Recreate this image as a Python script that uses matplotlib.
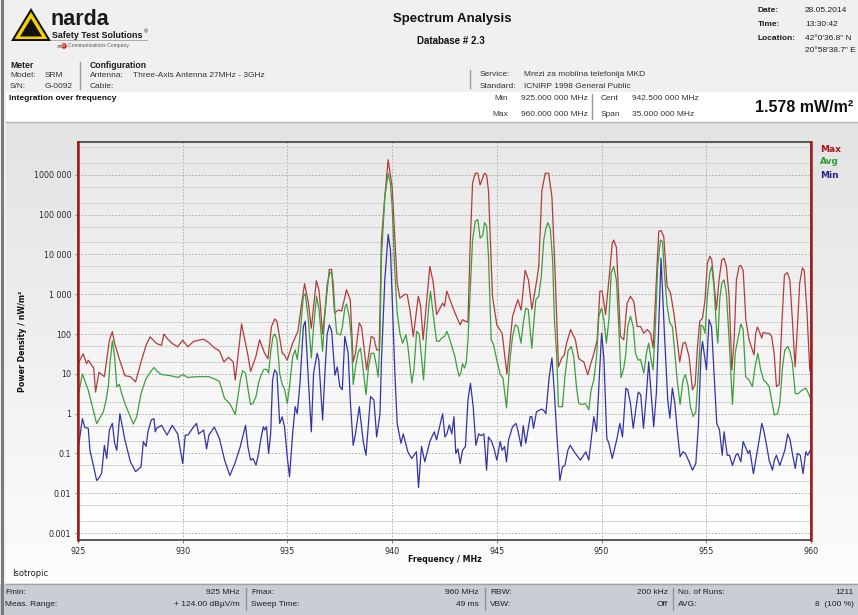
import numpy as np
import matplotlib.pyplot as plt
from matplotlib.colors import to_rgb
from matplotlib.patches import Polygon, Rectangle, Circle
from matplotlib.ticker import FixedLocator, LogLocator, NullFormatter

# values (MHz, nW/m²)
max_freq = [925.00, 925.25, 925.41, 925.49, 925.75, 925.84, 926.00, 926.26, 926.50, 926.64,
            926.75, 926.97, 927.24, 927.50, 927.75, 928.01, 928.25, 928.44, 928.75, 928.99,
            929.10, 929.25, 929.50, 929.76, 930.00, 930.25, 930.51, 930.76, 931.00, 931.25,
            931.51, 931.75, 931.97, 932.18, 932.41, 932.51, 932.81, 933.00, 933.11, 933.24,
            933.50, 933.67, 933.91, 934.07, 934.24, 934.40, 934.50, 934.75, 934.86, 934.99,
            935.25, 935.50, 935.66, 935.82, 936.00, 936.14, 936.25, 936.38, 936.51, 936.68,
            937.00, 937.11, 937.25, 937.43, 937.59, 937.82, 938.00, 938.14, 938.25, 938.43,
            938.54, 938.78, 939.00, 939.13, 939.26, 939.38, 939.49, 939.65, 939.81, 940.00,
            940.13, 940.24, 940.37, 940.61, 940.72, 940.85, 941.01, 941.25, 941.36, 941.48,
            941.80, 941.96, 942.12, 942.25, 942.41, 942.50, 942.61, 942.76, 943.00, 943.25,
            943.36, 943.50, 943.62, 943.73, 943.84, 943.97, 944.09, 944.20, 944.41, 944.51,
            944.60, 944.79, 945.00, 945.25, 945.48, 945.75, 946.00, 946.16, 946.35, 946.51,
            946.67, 946.91, 947.00, 947.15, 947.31, 947.47, 947.63, 947.78, 947.94, 948.10,
            948.22, 948.33, 948.52, 948.75, 948.91, 949.15, 949.34, 949.47, 949.63, 949.79,
            949.92, 950.03, 950.19, 950.35, 950.51, 950.58, 950.71, 950.90, 951.06, 951.22,
            951.38, 951.54, 951.70, 951.86, 952.02, 952.18, 952.34, 952.46, 952.57, 952.73,
            952.84, 952.97, 953.13, 953.29, 953.45, 953.61, 953.73, 953.89, 954.00, 954.18,
            954.34, 954.47, 954.58, 954.69, 954.82, 954.94, 955.05, 955.17, 955.26, 955.37,
            955.48, 955.61, 955.74, 955.85, 955.96, 956.09, 956.22, 956.33, 956.44, 956.57,
            956.65, 956.76, 956.89, 957.04, 957.17, 957.28, 957.36, 957.44, 957.55, 957.65,
            957.71, 957.84, 958.00, 958.12, 958.24, 958.35, 958.48, 958.60, 958.73, 958.87,
            958.99, 959.11, 959.24, 959.35, 959.46, 959.59, 959.68, 959.81, 959.94, 960.00]
max_vals = [18, 32, 18, 22, 14, 3.5, 11, 8.5, 70, 115,
            58, 24, 9, 8.5, 6.3, 20, 52, 85, 58, 52,
            100, 78, 58, 48, 70, 48, 65, 70, 74, 61,
            45, 38, 20, 26, 20, 7, 180, 59, 30, 11.5,
            28, 72, 33, 24, 155, 240, 210, 33, 30, 22,
            59, 117, 500, 1860, 600, 140, 500, 2200, 1250, 100,
            4200, 4200, 340, 400, 380, 1300, 730, 20, 33, 190,
            150, 12.6, 87, 80, 40, 40, 23000, 280000, 2400000, 500000,
            23000, 1900, 800, 1000, 980, 400, 87, 890, 500, 72,
            5000, 2000, 310, 410, 600, 500, 1200, 730, 340, 170,
            230, 210, 200, 20000, 620000, 1100000, 1100000, 560000, 1100000, 1000000,
            400000, 900, 170, 105, 10, 280, 730, 400, 4000, 2300,
            420, 2300, 5000, 400000, 1100000, 1100000, 280000, 3500, 15, 25,
            30, 59, 130, 72, 24, 20, 9.6, 17, 32, 72,
            1200, 1200, 310, 2300, 19000, 23000, 15000, 87, 72, 600,
            890, 650, 155, 155, 105, 130, 105, 45, 700, 38000,
            40000, 28000, 1580, 1100, 340, 72, 20, 59, 62, 27,
            4, 5.4, 49, 210, 250, 730, 6000, 9000, 7400, 1900,
            410, 2300, 7400, 8000, 5000, 890, 12.6, 72, 2300, 5100,
            5300, 4000, 230, 72, 45, 30, 105, 150, 110, 79,
            110, 105, 105, 87, 33, 4.8, 5.4, 150, 3000, 3500,
            2300, 230, 15, 150, 1900, 4600, 3900, 340, 12.6, 10]

avg_freq = [925.00, 925.21, 925.49, 925.75, 925.89, 926.05, 926.21, 926.34, 926.45, 926.53,
            926.64, 926.75, 926.85, 926.97, 927.08, 927.24, 927.50, 927.64, 927.80, 928.01,
            928.25, 928.50, 928.63, 928.75, 928.99, 929.25, 929.50, 929.76, 930.00, 930.25,
            930.51, 930.76, 931.00, 931.25, 931.51, 931.75, 932.00, 932.25, 932.51, 932.75,
            932.86, 933.00, 933.15, 933.24, 933.35, 933.50, 933.62, 933.75, 933.88, 934.00,
            934.10, 934.20, 934.31, 934.40, 934.50, 934.63, 934.75, 934.86, 934.99, 935.10,
            935.25, 935.37, 935.47, 935.58, 935.76, 935.85, 936.00, 936.14, 936.25, 936.39,
            936.51, 936.68, 936.79, 936.90, 937.03, 937.11, 937.19, 937.27, 937.35, 937.54,
            937.63, 937.74, 937.82, 937.95, 938.06, 938.14, 938.25, 938.38, 938.49, 938.62,
            938.75, 938.87, 939.00, 939.13, 939.26, 939.33, 939.42, 939.49, 939.65, 939.81,
            939.92, 940.00, 940.13, 940.24, 940.37, 940.50, 940.66, 940.75, 940.94, 941.04,
            941.17, 941.29, 941.40, 941.50, 941.64, 941.75, 941.83, 941.99, 942.12, 942.25,
            942.37, 942.50, 942.61, 942.76, 942.85, 943.00, 943.09, 943.20, 943.28, 943.36,
            943.46, 943.54, 943.62, 943.73, 943.84, 943.97, 944.09, 944.20, 944.32, 944.41,
            944.51, 944.60, 944.73, 944.84, 945.00, 945.16, 945.29, 945.46, 945.56, 945.64,
            945.75, 945.88, 946.00, 946.15, 946.26, 946.38, 946.50, 946.59, 946.67, 946.75,
            946.86, 947.00, 947.12, 947.24, 947.34, 947.43, 947.55, 947.66, 947.75, 947.86,
            947.94, 948.13, 948.25, 948.40, 948.55, 948.67, 948.80, 948.91, 949.07, 949.23,
            949.39, 949.50, 949.63, 949.76, 949.87, 950.00, 950.11, 950.23, 950.35, 950.46,
            950.58, 950.71, 950.82, 950.93, 951.06, 951.16, 951.25, 951.38, 951.51, 951.62,
            951.75, 951.86, 952.02, 952.14, 952.25, 952.37, 952.46, 952.57, 952.68, 952.81,
            952.91, 953.00, 953.13, 953.26, 953.38, 953.50, 953.61, 953.75, 953.89, 954.00,
            954.13, 954.24, 954.37, 954.50, 954.62, 954.75, 954.85, 954.94, 955.05, 955.17,
            955.26, 955.37, 955.48, 955.55, 955.64, 955.74, 955.85, 955.96, 956.09, 956.25,
            956.38, 956.50, 956.65, 956.76, 956.88, 957.04, 957.20, 957.33, 957.46, 957.60,
            957.74, 957.87, 958.00, 958.12, 958.25, 958.40, 958.51, 958.64, 958.75, 958.89,
            959.00, 959.11, 959.25, 959.40, 959.49, 959.62, 959.75, 959.88, 960.00]
avg_vals = [2.6, 10, 3.9, 1.1, 0.56, 0.79, 1.1, 2.2, 5, 19,
            68, 27, 4.7, 5.5, 3.3, 1.8, 0.83, 0.55, 0.83, 3.2,
            7.6, 12, 14.5, 12, 9.6, 9.3, 8.8, 8.1, 9.6, 8.1,
            8.4, 8.5, 8.5, 8.5, 7.5, 6.5, 2.4, 1.8, 0.95, 6.9,
            12, 10.5, 3.2, 1.7, 1.8, 2.7, 5.9, 9.6, 13, 13,
            10.5, 35, 87, 100, 72, 10.5, 5.4, 4.2, 1.8, 4.8,
            27, 40, 23, 72, 890, 1040, 230, 25, 155, 890,
            410, 37, 340, 1900, 3500, 3600, 1900, 340, 105, 95,
            160, 450, 570, 280, 72, 5.4, 15, 35, 44, 12.6,
            3, 15, 33, 33, 15, 8.3, 72, 8900, 280000, 1100000,
            600000, 160000, 3500, 340, 105, 59, 97, 49, 5.9, 12.6,
            117, 100, 27, 7, 100, 500, 1200, 230, 66, 66,
            80, 87, 117, 72, 49, 27, 15, 8.7, 10.5, 18,
            14, 20, 72, 1300, 23000, 69000, 75000, 26000, 30000, 63000,
            52000, 8900, 72, 55, 22, 9.6, 8, 1.4, 7, 27,
            87, 170, 155, 59, 190, 450, 410, 130, 44, 155,
            730, 890, 2800, 23000, 45000, 63000, 45000, 7400, 230, 27,
            1.5, 1.5, 8.5, 38, 49, 27, 4.8, 1.8, 1.7, 1.8,
            1.25, 4, 7, 27, 280, 450, 230, 59, 230, 3500,
            5000, 2200, 155, 8, 14, 33, 155, 280, 155, 33,
            22, 23, 10.5, 33, 59, 22, 12.6, 155, 5000, 23000,
            21000, 3500, 500, 190, 155, 33, 7, 1.7, 7, 9.6,
            5, 1.5, 0.85, 1.1, 10.5, 170, 155, 105, 890, 3500,
            5000, 1500, 155, 59, 730, 1900, 2300, 1070, 72, 1.7,
            33, 72, 180, 130, 8.5, 7, 4.8, 15, 33, 12.6,
            7, 6, 4.8, 2.2, 0.93, 1.0, 1.8, 15, 40, 49,
            36, 19, 3.2, 3.2, 3.6, 4, 4.4, 3.2, 2.2]

min_freq = [925.00, 925.21, 925.33, 925.49, 925.57, 925.75, 925.89, 926.00, 926.13, 926.26,
            926.37, 926.50, 926.64, 926.75, 926.85, 927.00, 927.24, 927.50, 927.75, 928.01,
            928.12, 928.25, 928.34, 928.50, 928.63, 928.69, 928.75, 928.99, 929.25, 929.50,
            929.76, 930.00, 930.12, 930.25, 930.51, 930.66, 930.76, 931.00, 931.14, 931.25,
            931.51, 931.75, 932.00, 932.25, 932.49, 932.75, 933.00, 933.11, 933.24, 933.35,
            933.50, 933.62, 933.75, 933.85, 933.91, 934.00, 934.10, 934.20, 934.29, 934.39,
            934.50, 934.63, 934.75, 934.86, 934.99, 935.10, 935.25, 935.37, 935.47, 935.60,
            935.76, 935.85, 936.00, 936.14, 936.25, 936.42, 936.50, 936.68, 936.79, 936.90,
            937.00, 937.11, 937.27, 937.38, 937.50, 937.62, 937.74, 937.90, 938.00, 938.14,
            938.25, 938.43, 938.62, 938.75, 938.97, 939.13, 939.26, 939.42, 939.49, 939.65,
            939.81, 939.92, 940.00, 940.13, 940.24, 940.42, 940.53, 940.75, 940.93, 941.16,
            941.26, 941.40, 941.56, 941.80, 942.01, 942.12, 942.25, 942.41, 942.52, 942.61,
            942.73, 942.85, 942.95, 943.04, 943.14, 943.25, 943.36, 943.50, 943.62, 943.74,
            943.87, 944.00, 944.13, 944.25, 944.38, 944.51, 944.60, 944.75, 944.87, 945.00,
            945.16, 945.25, 945.37, 945.46, 945.56, 945.75, 945.91, 946.00, 946.16, 946.26,
            946.38, 946.59, 946.67, 946.75, 946.89, 947.00, 947.15, 947.24, 947.34, 947.50,
            947.63, 947.75, 947.86, 948.01, 948.13, 948.25, 948.39, 948.50, 948.75, 948.99,
            949.25, 949.39, 949.50, 949.63, 949.76, 950.00, 950.11, 950.25, 950.35, 950.51,
            950.74, 950.87, 951.00, 951.16, 951.25, 951.38, 951.51, 951.75, 951.87, 952.00,
            952.14, 952.25, 952.37, 952.49, 952.62, 952.75, 952.84, 953.00, 953.16, 953.26,
            953.38, 953.50, 953.61, 953.75, 953.89, 954.00, 954.18, 954.34, 954.50, 954.62,
            954.75, 954.82, 955.01, 955.13, 955.25, 955.37, 955.50, 955.63, 955.76, 955.85,
            956.00, 956.11, 956.25, 956.41, 956.50, 956.65, 956.76, 957.00, 957.08, 957.25,
            957.39, 957.50, 957.65, 957.74, 957.89, 958.00, 958.16, 958.25, 958.35, 958.51,
            958.75, 958.89, 959.00, 959.11, 959.25, 959.35, 959.49, 959.62, 959.75, 959.84,
            960.00]
min_vals = [0.12, 0.75, 0.45, 0.43, 0.12, 0.046, 0.021, 0.024, 0.032, 0.16,
            0.075, 0.39, 0.57, 0.18, 0.12, 1.0, 0.22, 0.062, 0.035, 0.046,
            0.2, 0.15, 0.35, 0.7, 0.75, 0.35, 0.43, 0.51, 0.29, 0.51,
            0.31, 0.056, 0.29, 0.29, 0.46, 0.57, 0.31, 0.39, 0.13, 0.29,
            0.46, 0.24, 0.068, 0.028, 0.056, 0.15, 0.51, 0.15, 0.068, 0.075,
            0.051, 0.1, 0.26, 0.47, 0.39, 0.47, 0.1, 0.32, 7, 12.6,
            10.5, 0.57, 0.83, 0.47, 0.083, 0.026, 0.32, 1.5, 1.0, 5.8,
            155, 210, 7, 0.35, 10.5, 33, 22, 0.69, 10.5, 100,
            170, 120, 9.3, 15, 4.8, 4, 87, 33, 2.2, 0.16,
            0.31, 1.5, 0.2, 0.09, 2.7, 2.2, 0.26, 1.0, 22, 2300,
            32000, 13000, 890, 10.5, 0.57, 0.18, 0.31, 0.11, 0.075, 0.11,
            0.014, 0.15, 0.062, 0.2, 0.35, 0.22, 0.43, 1.0, 0.26, 0.31,
            0.52, 0.31, 0.84, 0.1, 0.13, 0.056, 0.12, 0.15, 2.2, 5.8,
            1.5, 0.16, 0.31, 0.28, 0.31, 0.038, 0.26, 0.2, 0.13, 0.068,
            0.2, 0.12, 0.15, 0.062, 0.22, 0.47, 0.57, 0.39, 0.15, 0.5,
            0.18, 0.84, 0.84, 0.43, 1.1, 1.2, 1.3, 1.2, 1.0, 8.5,
            25, 3.2, 0.31, 0.021, 0.046, 0.05, 0.12, 0.16, 0.1, 0.068,
            0.11, 0.068, 0.22, 0.84, 0.35, 105, 25, 0.24, 0.18, 0.075,
            0.24, 0.57, 0.26, 4.4, 4, 1.8, 0.43, 3.5, 3, 0.43,
            3, 20, 3, 0.47, 3.5, 340, 8000, 105, 2.2, 0.77,
            4.4, 1.8, 0.39, 0.083, 0.11, 0.1, 0.062, 0.038, 0.056, 0.47,
            33, 65, 12.6, 230, 155, 10.5, 0.57, 0.39, 0.09, 0.35,
            0.09, 0.09, 0.05, 0.09, 0.1, 0.062, 0.2, 0.1, 0.12, 0.031,
            0.083, 0.18, 0.57, 0.39, 0.15, 0.068, 0.038, 0.068, 0.09, 0.05,
            0.12, 0.31, 0.22, 0.1, 0.042, 0.1, 0.09, 0.031, 0.11, 0.09,
            0.13]

x_ticks = [925, 930, 935, 940, 945, 950, 955, 960]
y_ticks = [1e-3, 1e-2, 1e-1, 1, 10, 100, 1e3, 1e4, 1e5, 1e6]
y_tick_labels = ['0.001', '0.01', '0.1', '1', '10', '100', '1 000', '10 000', '100 000', '1000 000']

W, H = 858, 615
UI = 'Liberation Sans'
CH = 'DejaVu Sans'


def vgrad(top, bottom, n=200):
    t = np.linspace(0, 1, n)[:, None, None]
    return (1 - t) * np.array(to_rgb(top)) + t * np.array(to_rgb(bottom))


def put(x, y, s, size=6, bold=False, ha='left', color='#1E1E1E', family=UI, **kw):
    page.text(x, y, s, fontsize=size, fontweight='bold' if bold else 'normal',
              ha=ha, va='center', color=color, family=family, **kw)


fig = plt.figure(figsize=(W / 100, H / 100), dpi=100, facecolor='#F0F0F0')
page = fig.add_axes([0, 0, 1, 1], zorder=0)
page.set_axis_off()

# page background blocks
page.imshow(vgrad('#E3E3E3', '#FDFDFD'), extent=[6, W, 583, 122], aspect='auto', zorder=0)
page.add_patch(Rectangle((6, 92), W - 6, 30, facecolor='white', edgecolor='none'))
page.add_patch(Rectangle((0, 584), W, 31, facecolor='#C9CED4', edgecolor='none'))
page.plot([6, W], [122, 122], color='#B5B5B5', lw=1)
page.plot([6, W], [583.5, 583.5], color='#9EA3A8', lw=1)
page.add_patch(Rectangle((1, 0), 3, H, facecolor='#7A7A7A', edgecolor='none'))

# logo
page.add_patch(Polygon([(11, 41), (31, 8), (51, 41)], closed=True, facecolor='#111111', edgecolor='none'))
page.add_patch(Polygon([(14.5, 39), (31, 12), (47.5, 39)], closed=True, facecolor='#F5D100', edgecolor='none'))
page.add_patch(Polygon([(20, 36.5), (31, 18.5), (42, 36.5)], closed=True, facecolor='#111111', edgecolor='none'))
page.text(51, 25, 'narda', fontsize=15.5, fontweight='bold', ha='left', va='baseline',
          color='#1A1A1A', family=UI)
put(52, 35, 'Safety Test Solutions', 6.4, True, color='#1A1A1A')
put(144, 31.5, '®', 4, color='#1A1A1A')
page.plot([51, 147], [40, 40], color='#A0A0A0', lw=0.6)
put(57, 46, 'an', 3.4, color='#555555')
page.add_patch(Circle((64, 46), 2.8, facecolor='#D21F1F', edgecolor='none'))
put(64, 46, 'L3', 2.3, True, ha='center', color='white')
put(68, 46, 'Communications Company', 3.6, color='#555555')

# title block
put(452, 19, 'Spectrum Analysis', 9.5, True, ha='center', color='#111111')
put(451, 41, 'Database # 2.3', 7, True, ha='center', color='#111111')

put(758, 10, 'Date:', 6, True)
put(805, 10, '28.05.2014', 6)
put(758, 25, 'Time:', 6, True)
put(805, 25, '13:30:42', 6)
put(758, 38.5, 'Location:', 6, True)
put(805, 38.5, '42°0\'36.8" N', 6)
put(805, 50, '20°58\'38.7" E', 6)

put(10, 65, 'Meter', 6.2, True)
put(10, 75.5, 'Model:', 6, color='#333333')
put(45, 75.5, 'SRM', 6, color='#333333')
put(10, 86.5, 'S/N:', 6, color='#333333')
put(45, 86.5, 'G-0092', 6, color='#333333')
page.plot([80, 80], [62, 89], color='#9A9A9A', lw=1)
put(90, 65, 'Configuration', 6.2, True)
put(90, 75.5, 'Antenna:', 6, color='#333333')
put(133, 75.5, 'Three-Axis Antenna 27MHz - 3GHz', 6, color='#333333')
put(90, 86.5, 'Cable:', 6, color='#333333')
page.plot([470, 470], [70, 88], color='#9A9A9A', lw=1)
put(480, 74, 'Service:', 6, color='#333333')
put(524, 74, 'Mrezi za mobilna telefonija MKD', 6, color='#333333')
put(480, 86, 'Standard:', 6, color='#333333')
put(524, 86, 'ICNIRP 1998 General Public', 6, color='#333333')

# integration row
put(9, 99, 'Integration over frequency', 6, True, color='#111111')
put(508, 99, 'Min', 6, ha='right', color='#333333')
put(521, 99, '925.000 000 MHz', 6, color='#333333')
put(508, 114.5, 'Max', 6, ha='right', color='#333333')
put(521, 114.5, '960.000 000 MHz', 6, color='#333333')
page.plot([592, 592], [94, 119], color='#9A9A9A', lw=1)
put(601, 99, 'Cent', 6, color='#333333')
put(632, 99, '942.500 000 MHz', 6, color='#333333')
put(601, 114.5, 'Span', 6, color='#333333')
put(632, 114.5, '35.000 000 MHz', 6, color='#333333')
put(755, 108, '1.578 mW/m²', 11.5, True, color='#111111')

# chart
rect = [78 / W, 1 - 540 / H, (811 - 78) / W, (540 - 142) / H]
bg = fig.add_axes(rect, zorder=1)
bg.imshow(vgrad('#E8E8E8', '#FFFFFF'), extent=[0, 1, 0, 1], aspect='auto')
bg.set_axis_off()

ax = fig.add_axes(rect, zorder=2, facecolor='none')
ax.plot(max_freq, max_vals, color='#B23C3C', lw=0.9)
ax.plot(avg_freq, avg_vals, color='#3D9E3D', lw=0.9)
ax.plot(min_freq, min_vals, color='#3434A6', lw=0.9)
ax.axvline(925, color='#A51A1A', lw=1.8, clip_on=False, zorder=5)
ax.axvline(960, color='#A51A1A', lw=1.8, clip_on=False, zorder=5)

ax.set_yscale('log')
ax.set_xlim(925, 960)
ax.set_ylim(6.7e-4, 6.7e6)
ax.set_xticks(x_ticks)
ax.set_xticklabels([str(t) for t in x_ticks])
ax.yaxis.set_major_locator(FixedLocator(y_ticks))
ax.set_yticklabels(y_tick_labels)
ax.yaxis.set_minor_locator(LogLocator(base=10, subs=(2, 5), numticks=40))
ax.yaxis.set_minor_formatter(NullFormatter())
ax.grid(which='major', axis='both', color='#A5A5A5', lw=0.6, ls=(0, (2, 2)))
ax.grid(which='minor', axis='y', color='#D3D3D3', lw=0.7, ls='-')
ax.set_axisbelow(True)
ax.tick_params(which='major', length=2.5, color='#888888', labelsize=5.8,
               labelcolor='#2A2A2A', pad=2.5)
ax.tick_params(which='minor', length=0)
for s in ax.spines.values():
    s.set_color('#4B4B4B')
    s.set_linewidth(1.3)

put(444.5, 560, 'Frequency / MHz', 5.7, True, ha='center', color='#111111', family=CH)
put(22.5, 341, 'Power Density / nW/m²', 5.7, True, ha='center', color='#111111', family=CH, rotation=90)
put(820, 149, 'Max', 6.5, True, color='#A31818', family=CH)
put(820, 162, 'Avg', 6.5, True, color='#2E9E2E', family=CH)
put(820, 175, 'Min', 6.5, True, color='#24248E', family=CH)
put(12, 573, 'Isotropic', 6, color='#222222', family=CH)

# footer
put(5, 593, 'Fmin:', 6)
put(240, 593, '925 MHz', 6, ha='right')
put(5, 605, 'Meas. Range:', 6)
put(240, 605, '+ 124.00 dBµV/m', 6, ha='right')
put(251, 593, 'Fmax:', 6)
put(479, 593, '960 MHz', 6, ha='right')
put(251, 605, 'Sweep Time:', 6)
put(479, 605, '49 ms', 6, ha='right')
put(490, 593, 'RBW:', 6)
put(668, 593, '200 kHz', 6, ha='right')
put(490, 605, 'VBW:', 6)
put(668, 605, 'Off', 6, ha='right')
put(678, 593, 'No. of Runs:', 6)
put(854, 593, '1211', 6, ha='right')
put(678, 605, 'AVG:', 6)
put(854, 605, '8  (100 %)', 6, ha='right')
for xs in (246, 485, 673):
    page.plot([xs, xs], [588, 610], color='#8E949A', lw=1)

page.set_xlim(0, W)
page.set_ylim(H, 0)

fig.savefig('out.png', dpi=100, facecolor=fig.get_facecolor())
